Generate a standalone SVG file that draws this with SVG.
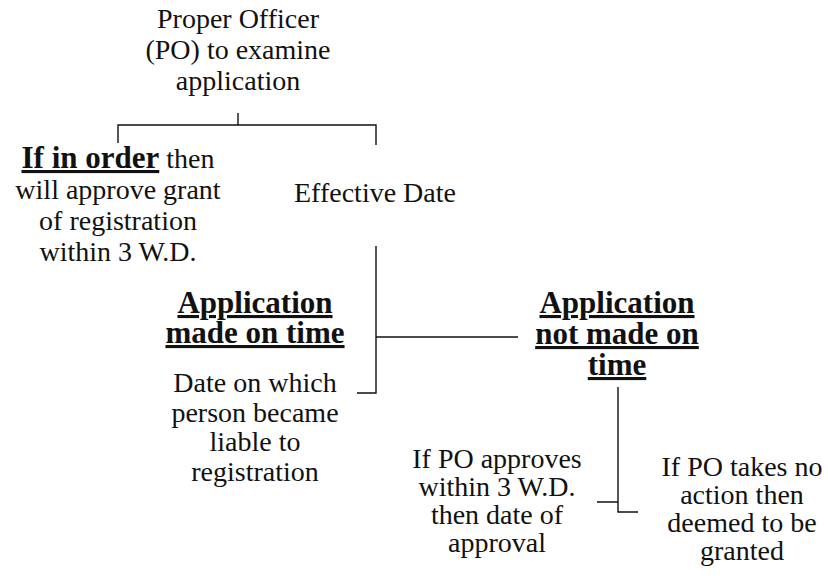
<svg xmlns="http://www.w3.org/2000/svg" width="828" height="580" viewBox="0 0 828 580">
  <style>
    .t { font-family: "Liberation Serif", "DejaVu Serif", serif; font-size: 28px; fill: #111; text-anchor: middle; }
    .b { font-family: "Liberation Serif", "DejaVu Serif", serif; font-size: 31px; font-weight: bold; fill: #111; text-decoration: underline; }
    .wire { fill: none; stroke: #111; stroke-width: 1.4; }
  </style>
  <rect width="828" height="580" fill="#fff"/>

  <!-- connectors -->
  <g id="connectors">
    <path class="wire" d="M238 113 V125 M118 143 V125 H376 V145"/>
    <path class="wire" d="M376 246 V393 H357 M376 337 H518"/>
    <path class="wire" d="M618 387 V512 H638 M597 502 H618"/>
  </g>

  <g id="examine">
    <text class="t" x="238" y="28">Proper Officer</text>
    <text class="t" x="238" y="59">(PO) to examine</text>
    <text class="t" x="238" y="90">application</text>
  </g>

  <g id="in-order">
    <text class="t" x="118" y="168"><tspan class="b">If in order</tspan> then</text>
    <text class="t" x="118" y="199">will approve grant</text>
    <text class="t" x="118" y="230">of registration</text>
    <text class="t" x="118" y="261">within 3 W.D.</text>
  </g>

  <g id="effective-date">
    <text class="t" x="375" y="202">Effective Date</text>
  </g>

  <g id="on-time">
    <text class="t b" x="255" y="313">Application</text>
    <text class="t b" x="255" y="343">made on time</text>
  </g>

  <g id="on-time-date">
    <text class="t" x="255" y="392">Date on which</text>
    <text class="t" x="255" y="422">person became</text>
    <text class="t" x="255" y="451">liable to</text>
    <text class="t" x="255" y="481">registration</text>
  </g>

  <g id="not-on-time">
    <text class="t b" x="617" y="313">Application</text>
    <text class="t b" x="617" y="344">not made on</text>
    <text class="t b" x="617" y="375">time</text>
  </g>

  <g id="po-approves">
    <text class="t" x="497" y="468">If PO approves</text>
    <text class="t" x="497" y="496">within 3 W.D.</text>
    <text class="t" x="497" y="524">then date of</text>
    <text class="t" x="497" y="552">approval</text>
  </g>

  <g id="no-action">
    <text class="t" x="742" y="476">If PO takes no</text>
    <text class="t" x="742" y="504">action then</text>
    <text class="t" x="742" y="532">deemed to be</text>
    <text class="t" x="742" y="560">granted</text>
  </g>
</svg>
